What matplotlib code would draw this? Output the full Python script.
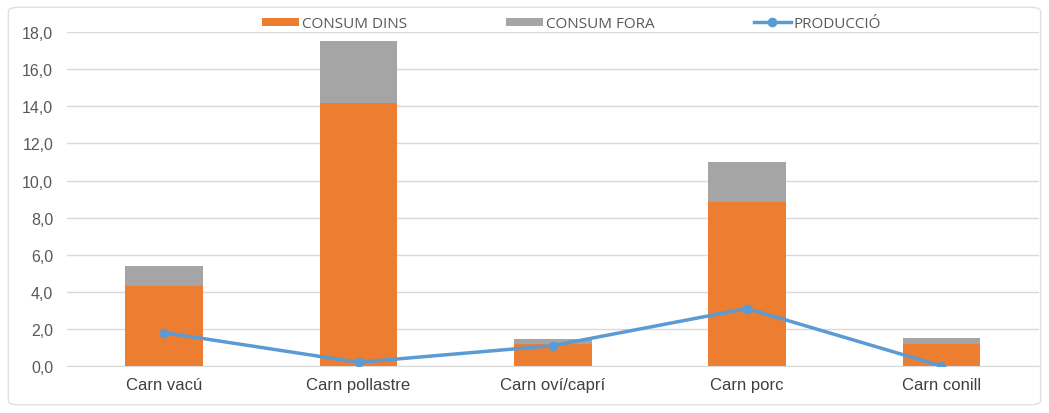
import matplotlib
matplotlib.use("Agg")
import matplotlib.pyplot as plt
import numpy as np
from matplotlib.patches import FancyBboxPatch
from matplotlib.ticker import FuncFormatter

categories = ["Carn vacú", "Carn pollastre", "Carn oví/caprí", "Carn porc", "Carn conill"]
consum_dins = [4.3, 14.2, 1.2, 8.85, 1.2]
consum_fora = [1.1, 3.3, 0.25, 2.15, 0.3]
produccio = [1.8, 0.2, 1.1, 3.1, 0.0]
yticks = [0, 2, 4, 6, 8, 10, 12, 14, 16, 18]

plt.rcParams['font.family'] = ['Liberation Sans', 'DejaVu Sans']

fig = plt.figure(figsize=(10.49, 4.14), dpi=100)
ax = fig.add_axes([0.064, 0.1135, 0.926, 0.8065])

x = np.arange(len(categories))
b1 = ax.bar(x, consum_dins, width=0.4, color="#ED7D31", label="CONSUM DINS", zorder=2)
b2 = ax.bar(x, consum_fora, width=0.4, bottom=consum_dins, color="#A5A5A5", label="CONSUM FORA", zorder=2)
l1, = ax.plot(x, produccio, color="#5B9BD5", lw=2.5, marker="o", ms=6, label="PRODUCCIÓ", zorder=3)

ax.set_xlim(-0.5, len(categories) - 0.5)
ax.set_ylim(0, 18)
ax.set_yticks(yticks)
ax.yaxis.set_major_formatter(FuncFormatter(lambda v, p: f"{v:.1f}".replace(".", ",")))
ax.grid(axis="y", color="#D9D9D9", lw=1, zorder=0)
ax.set_xticks(x)
ax.set_xticklabels(categories, fontsize=12, color="#404040")
ax.tick_params(axis="y", labelsize=11.5, colors="#595959", length=0, pad=10)
ax.tick_params(axis="x", length=0, pad=8)
for s in ax.spines.values():
    s.set_visible(False)
ax.spines["bottom"].set_visible(True)
ax.spines["bottom"].set_color("#D9D9D9")

leg = fig.legend(handles=[b1, b2, l1], labels=["CONSUM DINS", "CONSUM FORA", "PRODUCCIÓ"],
                 loc="center", bbox_to_anchor=(0.545, 0.94), ncol=3, frameon=False,
                 handlelength=2.4, handleheight=0.5, columnspacing=6.5, handletextpad=0.2,
                 prop={'family': ['Open Sans', 'DejaVu Sans'], 'size': 11})
for t in leg.get_texts():
    t.set_color("#595959")

border = FancyBboxPatch((0.008, 0.02), 0.984, 0.96, boxstyle="round,pad=0,rounding_size=0.01",
                        transform=fig.transFigure, fill=False, edgecolor="#E0E0E0", lw=1)
fig.patches.append(border)

fig.savefig("out.png", dpi=100)
